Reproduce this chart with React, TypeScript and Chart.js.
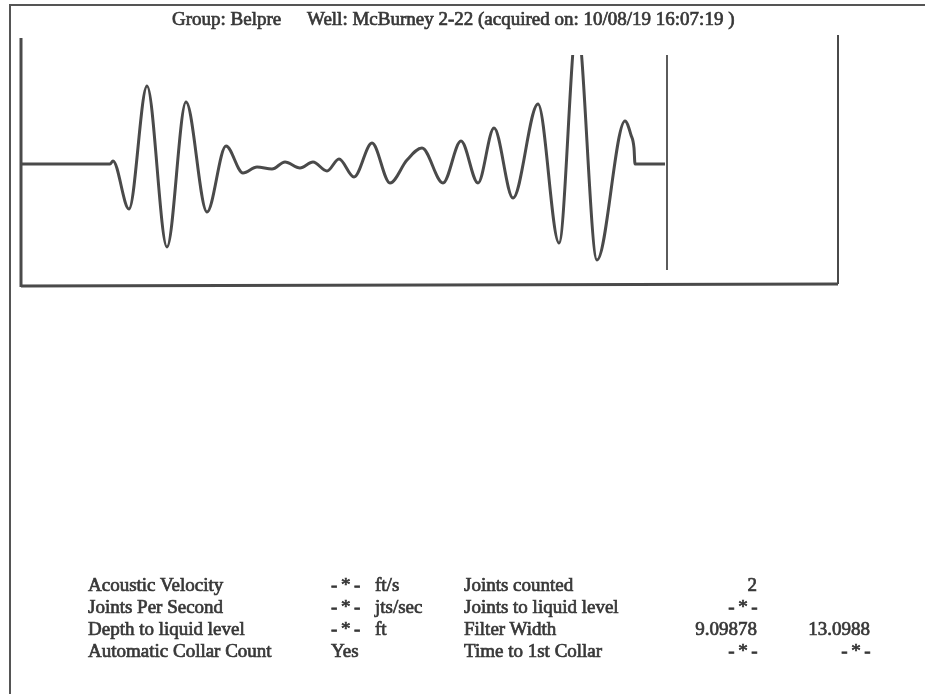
import React, { useEffect, useRef } from "react";
import { Chart, registerables } from "chart.js";

Chart.register(...registerables);

// ---- Data ----
const TIME: number[] = [1, 89, 92, 108, 126, 146, 165, 186, 205, 222, 236, 251, 264, 279, 292, 306, 318, 333, 351, 369, 386, 401, 422, 440, 457, 473, 492, 517, 538, 556, 576, 604, 610, 613, 614, 644];
const AMPLITUDE: number[] = [0, 0, 3, -45, 78, -83, 62, -48, 18, -9, -3, -5, 2, -4, 2, -7, 5, -13, 21, -19, 4, 16, -19, 23, -19, 36, -34, 60, -79, 140, -96, 43, 29, 16, 0, 0];
const X_RANGE: number[] = [0, 817];
const Y_RANGE: number[] = [-121, 127];
const MARKER_X = 646;
const MARKER_SPAN: number[] = [-106, 109];

const TITLE_GROUP = "Group: Belpre";
const TITLE_WELL = "Well: McBurney 2-22 (acquired on: 10/08/19 16:07:19 )";

const LEFT_LABELS: string[] = ["Acoustic Velocity", "Joints Per Second", "Depth to liquid level", "Automatic Collar Count"];
const LEFT_VALUES: string[] = ["- * -", "- * -", "- * -", "Yes"];
const LEFT_UNITS: string[] = ["ft/s", "jts/sec", "ft", ""];
const RIGHT_LABELS: string[] = ["Joints counted", "Joints to liquid level", "Filter Width", "Time to 1st Collar"];
const RIGHT_VALUES_1: string[] = ["2", "- * -", "9.09878", "- * -"];
const RIGHT_VALUES_2: string[] = ["", "", "13.0988", "- * -"];

const INK = "#383838";
const LINE = "#4a4a4a";
const FONT = '"Liberation Serif", "Times New Roman", serif';

const framePlugin = {
  id: "scanFrame",
  afterDatasetsDraw(chart: any) {
    const { ctx, chartArea, scales } = chart;
    const { left, right, top, bottom } = chartArea;
    ctx.save();
    ctx.strokeStyle = LINE;
    ctx.lineCap = "butt";
    // plot box: left, bottom, right
    ctx.lineWidth = 3;
    ctx.beginPath();
    ctx.moveTo(left, top + 1);
    ctx.lineTo(left, bottom + 2);
    ctx.stroke();
    ctx.lineWidth = 2.8;
    ctx.beginPath();
    ctx.moveTo(left, bottom + 1);
    ctx.lineTo(right, bottom - 1);
    ctx.stroke();
    ctx.lineWidth = 2;
    ctx.beginPath();
    ctx.moveTo(right, top - 2);
    ctx.lineTo(right, bottom - 1);
    ctx.stroke();
    // marker line
    const mx = scales.x.getPixelForValue(MARKER_X);
    ctx.lineWidth = 1.8;
    ctx.beginPath();
    ctx.moveTo(mx, scales.y.getPixelForValue(MARKER_SPAN[1]));
    ctx.lineTo(mx, scales.y.getPixelForValue(MARKER_SPAN[0]));
    ctx.stroke();
    // page frame
    ctx.lineWidth = 2;
    ctx.strokeStyle = "#555555";
    ctx.beginPath();
    ctx.moveTo(10, 694);
    ctx.lineTo(10, 5);
    ctx.lineTo(925, 5);
    ctx.stroke();
    ctx.restore();
  },
};

function Cell(props: { x: number; y: number; text: string; align?: "left" | "right"; size?: number }) {
  const { x, y, text, align = "left", size = 19 } = props;
  const style: React.CSSProperties = {
    position: "absolute",
    top: y - Math.round(size * 0.84),
    fontFamily: FONT,
    fontSize: size,
    lineHeight: `${size}px`,
    color: INK,
    whiteSpace: "pre",
    WebkitTextStroke: "0.7px " + INK,
    letterSpacing: text === "- * -" ? "-0.6px" : "normal",
  };
  if (align === "left") style.left = x;
  else style.right = 925 - x;
  return <div style={style}>{text}</div>;
}

export default function App() {
  const canvasRef = useRef<HTMLCanvasElement | null>(null);

  useEffect(() => {
    const canvas = canvasRef.current;
    if (!canvas) return;
    const points = TIME.map((t, i) => ({ x: t, y: AMPLITUDE[i] }));
    const chart = new Chart(canvas, {
      type: "line",
      data: {
        datasets: [
          {
            data: points,
            borderColor: LINE,
            borderWidth: 3,
            pointRadius: 0,
            cubicInterpolationMode: "monotone",
            fill: false,
            clip: { left: 0, top: -18, right: 0, bottom: 0 } as any,
          },
        ],
      },
      options: {
        responsive: false,
        animation: false,
        layout: { padding: { left: 21, right: 87, top: 37, bottom: 409 } },
        scales: {
          x: { type: "linear", min: X_RANGE[0], max: X_RANGE[1], display: false },
          y: { type: "linear", min: Y_RANGE[0], max: Y_RANGE[1], display: false },
        },
        plugins: { legend: { display: false }, tooltip: { enabled: false }, title: { display: false } },
      },
      plugins: [framePlugin],
    });
    return () => chart.destroy();
  }, []);

  const rowY = [591, 613, 635, 657];

  return (
    <div style={{ position: "fixed", left: 0, top: 0, width: 925, height: 694, background: "#ffffff", overflow: "hidden" }}>
      <canvas ref={canvasRef} width={925} height={694} style={{ position: "absolute", left: 0, top: 0 }} />
      <Cell x={172} y={25} text={TITLE_GROUP} />
      <Cell x={307} y={25} text={TITLE_WELL} />
      {LEFT_LABELS.map((t, i) => (
        <Cell key={"ll" + i} x={88} y={rowY[i]} text={t} />
      ))}
      {LEFT_VALUES.map((t, i) => (
        <Cell key={"lv" + i} x={331} y={rowY[i]} text={t} />
      ))}
      {LEFT_UNITS.map((t, i) => (
        <Cell key={"lu" + i} x={375} y={rowY[i]} text={t} />
      ))}
      {RIGHT_LABELS.map((t, i) => (
        <Cell key={"rl" + i} x={464} y={rowY[i]} text={t} />
      ))}
      {RIGHT_VALUES_1.map((t, i) => (
        <Cell key={"r1" + i} x={757} y={rowY[i]} text={t} align="right" />
      ))}
      {RIGHT_VALUES_2.map((t, i) => (
        <Cell key={"r2" + i} x={870} y={rowY[i]} text={t} align="right" />
      ))}
    </div>
  );
}
